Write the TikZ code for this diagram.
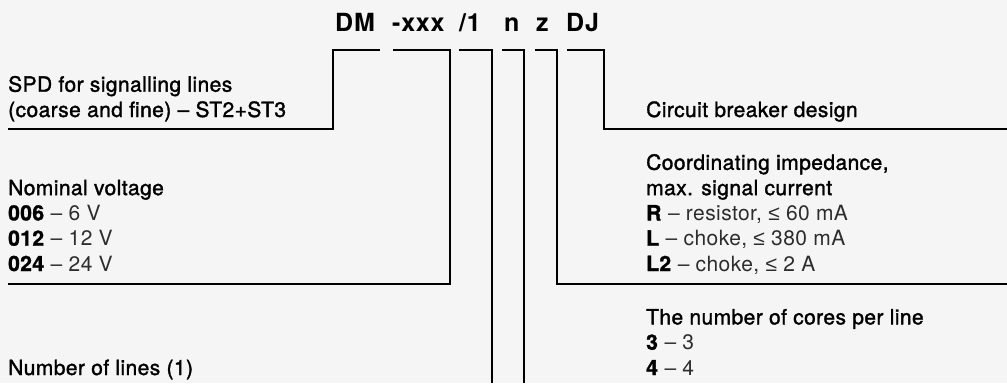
\documentclass[tikz,border=0pt]{standalone}
\usepackage{fontspec}
\setmainfont{TeX Gyre Heros}[LetterSpace=2]
\newfontfamily\medfont{TeX Gyre Heros}[LetterSpace=2, FakeBold=1.5]
\newfontfamily\symfont{Liberation Sans}
\usepackage{xcolor}
\usepackage{tikz}
\usetikzlibrary{calc}

\definecolor{paper}{RGB}{245,245,245}
\definecolor{valtext}{RGB}{45,45,45}
\newcommand{\val}[1]{\textcolor{valtext}{\rmfamily #1}}
\newcommand{\lesym}{{\symfont ≤}}

\begin{document}
\begin{tikzpicture}[
      x=1pt, y=-1pt,
      code/.style={anchor=base west, inner sep=0pt,
            font=\fontsize{25}{28}\selectfont\bfseries\addfontfeature{LetterSpace=3}},
      desc/.style={anchor=base west, inner sep=0pt, align=left,
            font=\fontsize{21}{25.3}\selectfont\medfont},
      lead/.style={line width=2.3pt}
]
      \path[use as bounding box, fill=paper] (0,0) rectangle (1007,383);

      \node[code] (cDM) at (335,31) {DM};
      \node[code] (cxxx) at (392,31) {-xxx};
      \node[code] (cone) at (459,31) {/1};
      \node[code] (cn) at (504,31) {n};
      \node[code] (cz) at (536,31) {z};
      \node[code] (cDJ) at (566,31) {DJ};

      % multi-line nodes: base is the last line
      \node[desc] (spd) at (8,117) {SPD for signalling lines\\(coarse and fine) – ST2+ST3};
      \node[desc] (volt) at (8,271) {Nominal voltage\\
            \textbf{006} \val{– 6 V}\\\textbf{012} \val{– 12 V}\\\textbf{024} \val{– 24 V}};
      \node[desc] (lines) at (8,375) {Number of lines (1)};
      \node[desc] (breaker) at (646,117) {Circuit breaker design};
      \node[desc] (imp) at (646,271) {Coordinating impedance,\\max. signal current\\
            \textbf{R} \val{– resistor, \lesym{} 60 mA}\\
            \textbf{L} \val{– choke, \lesym{} 380 mA}\\
            \textbf{L2} \val{– choke, \lesym{} 2 A}};
      \node[desc] (cores) at (646,375) {The number of cores per line\\
            \textbf{3} \val{– 3}\\\textbf{4} \val{– 4}};

      \coordinate (eSPD) at (8,129);
      \coordinate (eVolt) at (8,284);
      \coordinate (eBreaker) at (1007,129);
      \coordinate (eImp) at (1007,284);
      \coordinate (eLines) at (492,383);
      \coordinate (eCores) at (524,383);

      \draw[lead] (380,50) -- (333,50) |- (eSPD);
      \draw[lead] (393,50) -- (450,50) |- (eVolt);
      \draw[lead] (459,50) -| (eLines);
      \draw[lead] (502,50) -| (eCores);
      \draw[lead] (535,50) -- (557,50) |- (eImp);
      \draw[lead] (567,50) -- (604,50) |- (eBreaker);
\end{tikzpicture}
\end{document}
